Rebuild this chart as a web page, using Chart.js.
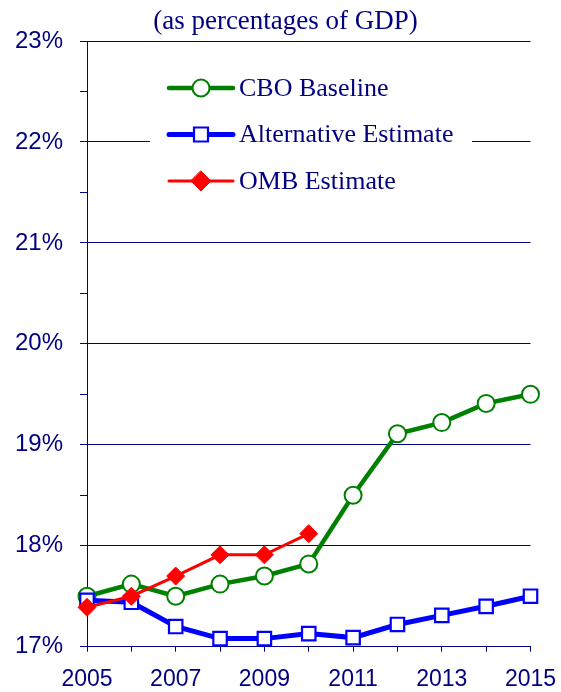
<!DOCTYPE html>
<html>
<head>
<meta charset="utf-8">
<script src="https://cdn.jsdelivr.net/npm/chart.js@4/dist/chart.umd.min.js"></script>
<style>
	html, body { margin: 0; padding: 0; background: #fff; }
	#wrap { width: 561px; height: 692px; position: relative; }
</style>
</head>
<body>
<div id="wrap"><canvas id="gdpChart"></canvas></div>
<script>
const years = ['2005', '2006', '2007', '2008', '2009', '2010', '2011', '2012', '2013', '2014', '2015'];
const cboBaseline = [17.5, 17.62, 17.5, 17.62, 17.7, 17.82, 18.5, 19.11, 19.22, 19.41, 19.5];
const alternativeEstimate = [17.46, 17.44, 17.2, 17.08, 17.08, 17.13, 17.09, 17.22, 17.31, 17.4, 17.5];
const ombEstimate = [17.39, 17.5, 17.7, 17.91, 17.91, 18.12, null, null, null, null, null];
const yTicks = [17, 18, 19, 20, 21, 22, 23];
const chartTitle = '(as percentages of GDP)';

const navy = '#000080';

// white legend box drawn over the grid, like the original
const legendBox = {
	id: 'legendBox',
	beforeDatasetsDraw(chart) {
		const ctx = chart.ctx;
		ctx.save();
		ctx.fillStyle = '#fff';
		ctx.fillRect(150, 62, 322, 140);
		const rows = [88, 134.5, 181];
		const entries = [chart.data.datasets[2], chart.data.datasets[1], chart.data.datasets[0]];
		entries.forEach((ds, i) => {
			const y = rows[i];
			ctx.strokeStyle = ds.borderColor;
			ctx.lineWidth = ds.borderWidth;
			ctx.lineCap = 'round';
			ctx.beginPath();
			ctx.moveTo(169, y);
			ctx.lineTo(233, y);
			ctx.stroke();
			ctx.lineWidth = ds.pointBorderWidth;
			ctx.fillStyle = ds.pointBackgroundColor;
			ctx.strokeStyle = ds.pointBorderColor;
			ctx.beginPath();
			if (ds.pointStyle === 'circle') {
				ctx.arc(201, y, 8.5, 0, Math.PI * 2);
			} else if (ds.pointStyle === 'rect') {
				ctx.rect(201 - 7, y - 7, 14, 14);
			} else {
				ctx.moveTo(201, y - 10);
				ctx.lineTo(211, y);
				ctx.lineTo(201, y + 10);
				ctx.lineTo(191, y);
				ctx.closePath();
			}
			ctx.fill();
			ctx.stroke();
			ctx.fillStyle = navy;
			ctx.font = '26px "Liberation Serif", "Times New Roman", serif';
			ctx.textAlign = 'left';
			ctx.textBaseline = 'middle';
			ctx.fillText(ds.label, 239, y + 1);
		});
		ctx.restore();
	},
	afterDraw(chart) {
		const ctx = chart.ctx;
		ctx.save();
		ctx.fillStyle = navy;
		ctx.font = '27px "Liberation Serif", "Times New Roman", serif';
		ctx.textAlign = 'center';
		ctx.textBaseline = 'middle';
		ctx.fillText(chartTitle, 285.5, 22);
		ctx.restore();
	}
};

function createChart() {
	const ctx = document.getElementById('gdpChart').getContext('2d');
	new Chart(ctx, {
		type: 'line',
		data: {
			labels: years,
			datasets: [
				{
					label: 'OMB Estimate',
					data: ombEstimate,
					borderColor: '#ff0000',
					borderWidth: 3,
					pointStyle: 'rectRot',
					pointRadius: 9,
					pointBackgroundColor: '#ff0000',
					pointBorderColor: '#ff0000',
					pointBorderWidth: 1,
					order: 0
				},
				{
					label: 'Alternative Estimate',
					data: alternativeEstimate,
					borderColor: '#0000ff',
					borderWidth: 5,
					pointStyle: 'rect',
					pointRadius: 9.5,
					pointBackgroundColor: '#fff',
					pointBorderColor: '#0000ff',
					pointBorderWidth: 2.2,
					order: 1
				},
				{
					label: 'CBO Baseline',
					data: cboBaseline,
					borderColor: '#008000',
					borderWidth: 4.5,
					pointStyle: 'circle',
					pointRadius: 8.5,
					pointBackgroundColor: '#fff',
					pointBorderColor: '#008000',
					pointBorderWidth: 2,
					order: 2
				}
			]
		},
		options: {
			responsive: true,
			maintainAspectRatio: false,
			animation: false,
			clip: false,
			layout: { padding: { top: 41, right: 30.5, left: 0, bottom: 0 } },
			plugins: {
				legend: { display: false },
				tooltip: { enabled: false }
			},
			elements: { line: { tension: 0, spanGaps: false } },
			scales: {
				x: {
					offset: false,
					grid: {
						offset: false,
						drawOnChartArea: false,
						color: navy,
						tickLength: 5
					},
					border: { color: navy, width: 1 },
					ticks: {
						color: navy,
						font: { family: '"Liberation Sans", Arial, sans-serif', size: 23 },
						padding: 14,
						maxRotation: 0,
						autoSkip: false,
						callback: function (value, index) {
							return index % 2 === 0 ? years[index] : '';
						}
					},
					afterFit: function (scale) {
						scale.height = 45.3;
						scale.paddingLeft = 0;
						scale.paddingRight = 0;
					}
				},
				y: {
					min: yTicks[0],
					max: yTicks[yTicks.length - 1],
					grid: {
						color: c => (c.tick && Number.isInteger(c.tick.value) ? navy : 'rgba(0,0,0,0)'),
						tickColor: navy,
						tickLength: 7,
						lineWidth: 1
					},
					border: { color: navy, width: 1 },
					ticks: {
						stepSize: 0.5,
						color: navy,
						padding: 17,
						font: { family: '"Liberation Sans", Arial, sans-serif', size: 24 },
						callback: v => (yTicks.includes(v) ? v + '%' : '')
					},
					afterFit: function (scale) {
						scale.width = 87;
						scale.paddingTop = 0;
						scale.paddingBottom = 0;
					}
				}
			}
		},
		plugins: [legendBox]
	});
}

document.addEventListener('DOMContentLoaded', createChart);
</script>
</body>
</html>
